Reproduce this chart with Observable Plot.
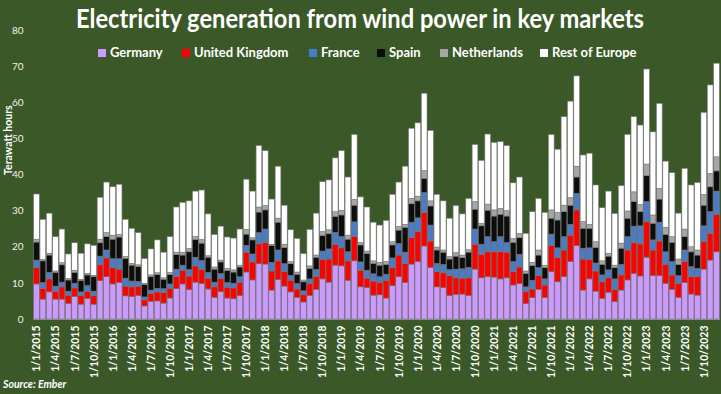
<!DOCTYPE html>
<html><head><meta charset="utf-8">
<script src="https://cdn.jsdelivr.net/npm/d3@7"></script>
<script src="https://cdn.jsdelivr.net/npm/@observablehq/plot@0.6"></script>
<style>
html,body{margin:0;padding:0;background:#3a5828;}
#wrap{position:relative;width:721px;height:394px;background:#3a5828;overflow:hidden;font-family:Lato,"Open Sans",sans-serif;color:#fff;}
#chart{position:absolute;left:0;top:0;}
#title{position:absolute;left:0;top:0;overflow:visible;}
.leg{position:absolute;top:44px;font-size:13px;font-weight:bold;white-space:nowrap;line-height:16px;}
.sw{display:inline-block;width:8px;height:8px;margin-right:4px;vertical-align:0px;}
#src{position:absolute;left:3px;top:378px;font-size:10.5px;font-weight:bold;font-style:italic;}
</style></head>
<body><div id="wrap"></div>
<script>
// ---- data (TWh per month, Jan 2015 – Dec 2023) ----
const series = ["Germany","United Kingdom","France","Spain","Netherlands","Rest of Europe"];
const colors = ["#cc99ff","#ff0000","#4a7bc8","#0d0d0d","#a6a6a6","#ffffff"];

const germany = [9.7,5.5,7.5,5.5,5.5,4.3,6.2,4.1,5.7,4.1,10.6,11.7,
 9.7,10.1,6.4,6.2,6.5,3.6,4.9,5.0,4.4,5.8,8.4,9.7,
 8.1,10.2,9.8,8.3,6.0,7.6,5.8,5.6,6.5,13.0,10.8,15.3,
 15.2,8.0,10.9,9.1,7.5,6.0,4.7,6.5,8.2,11.1,10.2,14.9,
 14.7,10.7,16.1,8.9,8.7,6.6,6.7,5.8,9.2,11.7,10.1,15.2,
 15.9,20.2,14.3,8.9,8.7,6.5,6.8,6.9,6.5,13.8,11.4,11.7,
 11.6,11.1,11.4,9.4,9.8,4.3,5.9,8.2,5.9,13.1,10.3,11.7,
 15.9,20.3,8.0,11.1,7.7,5.7,7.4,4.8,8.0,10.8,12.6,11.9,
 17.1,12.0,12.0,9.9,8.2,6.0,10.1,6.9,6.6,13.8,16.3,18.6];
const unitedKingdom = [4.5,3.0,3.6,2.2,3.4,2.3,2.4,2.4,1.9,2.4,4.4,5.2,
 4.5,3.7,2.7,2.7,2.6,1.7,2.2,2.5,2.9,2.7,3.4,3.8,
 3.8,4.5,3.9,3.0,2.9,3.6,3.0,3.0,3.7,5.5,5.0,5.5,
 6.0,5.3,5.2,4.1,3.2,2.3,2.0,3.3,3.6,5.4,6.4,5.8,
 5.0,5.4,6.7,4.6,2.6,3.9,3.4,4.9,5.0,6.0,5.2,7.3,
 8.3,9.3,7.3,4.2,4.1,5.5,4.6,4.4,4.9,6.9,6.5,6.9,
 7.0,7.5,7.1,3.7,4.6,3.4,2.4,3.8,3.5,7.2,6.7,7.4,
 7.3,9.9,8.6,5.4,5.6,4.6,4.0,3.4,4.2,8.3,8.5,8.9,
 9.8,7.1,9.6,5.2,4.0,3.9,5.8,4.8,5.1,7.6,7.4,10.4];
const france = [2.1,1.6,1.8,1.4,1.3,1.1,1.3,1.0,1.7,1.2,2.4,2.2,
 2.5,2.9,2.2,1.6,1.3,0.8,0.9,1.0,1.1,1.2,2.0,1.4,
 1.8,2.4,2.5,1.6,1.3,1.4,1.3,1.3,1.5,1.9,2.2,3.1,
 3.7,2.4,3.0,2.1,1.4,1.5,1.1,1.3,1.9,2.3,2.8,3.3,
 3.1,2.5,4.1,2.3,2.2,2.0,1.6,1.7,2.7,3.2,3.2,4.3,
 3.8,5.5,4.4,2.3,2.3,1.7,2.4,2.6,2.9,4.2,2.8,4.2,
 2.8,4.2,2.7,2.8,3.5,1.2,2.4,2.2,1.7,3.2,2.7,3.7,
 3.0,4.6,3.0,3.2,2.2,1.9,2.2,2.9,2.9,3.7,4.6,5.0,
 5.6,2.8,5.2,3.5,3.7,2.1,3.2,2.8,2.3,4.4,6.0,6.4];
const spain = [5.0,6.0,4.8,3.8,4.8,3.1,3.0,3.2,2.9,4.0,3.7,3.7,
 5.4,6.0,5.5,4.4,4.1,3.4,3.7,3.8,2.6,2.6,4.0,2.8,
 4.9,4.9,4.8,4.2,3.6,3.2,3.3,3.1,2.7,3.1,3.9,5.7,
 5.3,4.6,7.7,4.5,3.2,2.6,2.5,2.9,3.4,4.3,4.2,4.4,
 6.0,3.5,4.6,4.7,4.6,2.9,3.2,2.7,3.6,3.7,6.9,5.1,
 4.7,3.9,5.3,3.7,3.4,2.9,3.6,3.1,4.2,5.5,5.1,7.3,
 7.1,6.2,7.3,5.3,4.6,3.7,4.1,3.5,3.1,4.4,7.7,6.9,
 5.3,4.5,5.5,5.4,4.3,2.9,3.8,3.1,4.5,5.1,6.8,3.9,
 7.2,4.6,6.4,4.8,5.3,3.1,3.7,4.1,3.7,5.7,6.9,5.6];
const netherlands = [0.8,0.4,0.5,0.4,0.6,0.4,0.6,0.3,0.4,0.4,1.0,1.1,
 1.1,0.7,0.5,0.5,0.5,0.4,0.5,0.5,0.4,0.6,0.7,0.8,
 0.9,0.9,1.0,0.4,0.6,0.5,0.6,0.6,0.5,1.3,0.6,1.4,
 1.2,0.4,1.1,0.9,0.6,0.6,0.5,0.7,0.6,1.1,1.1,1.3,
 1.3,1.1,1.6,0.7,0.7,0.7,0.8,0.8,0.9,1.0,0.8,1.5,
 1.3,2.2,1.4,0.8,0.6,0.7,1.0,0.7,0.7,2.1,0.7,1.7,
 1.7,1.6,1.5,1.1,1.2,0.7,0.9,1.4,0.7,2.3,2.1,1.8,
 2.1,3.0,1.9,1.1,1.6,1.0,0.8,0.7,1.4,2.0,2.7,2.0,
 3.2,2.3,3.0,2.0,1.6,1.5,2.1,1.4,1.4,3.0,3.7,3.9];
const restOfEurope = [12.5,11.1,11.1,9.5,9.3,6.8,7.6,7.2,8.2,8.3,11.6,14.0,
 13.4,13.9,10.3,9.7,8.9,6.8,7.2,9.1,7.1,9.9,12.5,13.8,
 13.2,12.5,13.7,11.6,9.0,9.4,8.7,8.8,10.0,13.9,12.9,17.0,
 15.2,12.5,14.4,10.8,8.8,9.3,7.3,10.1,11.6,13.8,13.8,14.9,
 16.5,16.1,18.0,12.6,12.2,10.7,10.3,11.4,13.1,12.3,16.1,19.4,
 20.3,21.4,19.5,14.6,13.6,10.6,13.0,11.4,14.2,15.8,17.4,19.4,
 18.7,18.5,18.0,15.4,15.6,10.4,14.0,14.3,14.6,20.9,17.5,24.5,
 26.7,25.0,18.4,19.7,15.7,14.7,17.2,14.3,15.9,21.2,20.8,22.0,
 26.3,23.0,23.5,18.3,17.7,12.7,16.8,17.1,18.7,22.7,24.5,25.9];

const months = [];
for (let y = 2015; y <= 2023; y++) for (let m = 1; m <= 12; m++) months.push(`1/${m}/${y}`);
const xTicks = months.filter(d => /^1\/(1|4|7|10)\//.test(d));

const valuesBySeries = [germany, unitedKingdom, france, spain, netherlands, restOfEurope];
const tidy = [];
series.forEach((s, si) => months.forEach((m, i) => tidy.push({month: m, series: s, value: valuesBySeries[si][i]})));

const wrap = document.getElementById("wrap");

const chart = Plot.plot({
  width: 721, height: 394,
  marginLeft: 33, marginRight: 1, marginTop: 30, marginBottom: 75,
  style: {background: "none", color: "#fff", fontFamily: "Lato, 'Open Sans', sans-serif", fontSize: "10px"},
  x: {type: "band", domain: months, padding: 0.1},
  y: {domain: [0, 80]},
  color: {domain: series, range: colors},
  marks: [
    Plot.barY(tidy, {x: "month", y: "value", fill: "series", stroke: "#7a7a7a", strokeWidth: 0.6}),
    Plot.axisY({ticks: d3.range(0, 81, 10), tickSize: 0, tickPadding: 10, label: null, fill: "#f0f0f0", fontSize: 10}),
    Plot.axisX({ticks: xTicks, tickSize: 0, tickPadding: 6, tickRotate: -90, label: null, fontWeight: "bold", fontSize: 10.5, fill: "#fff"}),
    Plot.text(["Terawatt hours"], {frameAnchor: "left", dx: -25, rotate: -90, fill: "#fff", fontWeight: "bold", fontSize: 10.5}),
    Plot.ruleY([0], {stroke: "#8a8a8a", strokeWidth: 1})
  ]
});
chart.id = "chart";
wrap.appendChild(chart);

// title
const ns = "http://www.w3.org/2000/svg";
const tsvg = document.createElementNS(ns, "svg");
tsvg.setAttribute("width", 721); tsvg.setAttribute("height", 44); tsvg.id = "title";
const tt = document.createElementNS(ns, "text");
tt.setAttribute("x", 360); tt.setAttribute("y", 28); tt.setAttribute("text-anchor", "middle");
tt.setAttribute("textLength", 568); tt.setAttribute("lengthAdjust", "spacingAndGlyphs");
tt.setAttribute("fill", "#fff"); tt.setAttribute("font-weight", "bold"); tt.setAttribute("font-size", 26);
tt.setAttribute("font-family", "Lato, 'Open Sans', sans-serif");
tt.textContent = "Electricity generation from wind power in key markets";
tsvg.appendChild(tt); wrap.appendChild(tsvg);

// legend
const legX = [98, 182, 309, 377, 440, 540];
series.forEach((s, i) => {
  const d = document.createElement("div");
  d.className = "leg"; d.style.left = legX[i] + "px";
  d.innerHTML = `<span class="sw" style="background:${colors[i]}"></span>${s}`;
  wrap.appendChild(d);
});

const src = document.createElement("div");
src.id = "src"; src.textContent = "Source: Ember";
wrap.appendChild(src);
</script></body></html>
